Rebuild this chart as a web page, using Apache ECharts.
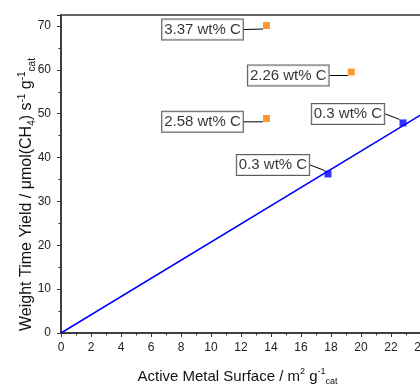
<!DOCTYPE html>
<html>
<head>
<meta charset="utf-8">
<script src="https://cdn.jsdelivr.net/npm/echarts@6/dist/echarts.min.js"></script>
<style>
  html, body { margin: 0; padding: 0; background: #fff; }
  #chart { width: 420px; height: 385px; }
</style>
</head>
<body>
<div id="chart"></div>
<script>
// data
var carbonX = [13.7, 19.35, 13.7];
var carbonY = [70.1, 59.5, 48.9];
var carbonLabels = ['3.37 wt% C', '2.26 wt% C', '2.58 wt% C'];

var lowCX = [17.8, 22.8];
var lowCY = [36.25, 47.9];
var lowCLabels = ['0.3 wt% C', '0.3 wt% C'];

var fitX = [0, 25];
var fitY = [0, 51.8];

// label box offsets (px) from the marker, per point
var carbonOffsets = [[-64, 4], [-63, 3.5], [-64, 3.3]];
var lowCOffsets = [[-55, -9], [-55, -9]];

function pairs(xs, ys) {
    return xs.map(function (x, i) { return [x, ys[i]]; });
}

var font = '"Liberation Sans", Arial, sans-serif';

var boxLabel = {
    show: true,
    position: 'inside',
    formatter: function (p) { return p.data.name; },
    color: '#000',
    fontFamily: font,
    fontSize: 15,
    backgroundColor: '#fff',
    borderColor: '#333',
    borderWidth: 1,
    padding: [3, 2, 2, 2]
};

function named(xs, ys, names) {
    return xs.map(function (x, i) { return { value: [x, ys[i]], name: names[i] }; });
}

function layoutBy(offsets) {
    return function (p) {
        var o = offsets[p.dataIndex];
        return { dx: o[0], dy: o[1] };
    };
}

function titleStyle(size, pad) {
    var small = Math.round(size * 0.62);
    return {
        color: '#111', fontFamily: font, fontSize: size, lineHeight: size + 4,
        padding: pad,
        rich: {
            sup: { fontFamily: font, fontSize: small, lineHeight: small + 1, verticalAlign: 'top', color: '#111' },
            sub: { fontFamily: font, fontSize: small, lineHeight: small + 1, verticalAlign: 'bottom', color: '#111' }
        }
    };
}

var axisCommon = {
    axisLine: { show: true, lineStyle: { color: '#333', width: 1.5 } },
    axisTick: { show: true, inside: false, length: 4, lineStyle: { color: '#333', width: 1 } },
    minorTick: { show: true, splitNumber: 2, length: 2.5, lineStyle: { color: '#333', width: 1 } },
    splitLine: { show: false },
    axisLabel: { color: '#222', fontFamily: font, fontSize: 12, showMaxLabel: false }
};

var chart = echarts.init(document.getElementById('chart'));
chart.setOption({
    animation: false,
    grid: {
        left: 61, top: 15, width: 375, height: 318,
        outerBoundsMode: 'none', containLabel: false,
        show: true, borderColor: '#333', borderWidth: 1.5, backgroundColor: 'transparent'
    },
    xAxis: Object.assign({}, axisCommon, {
        type: 'value', min: 0, max: 25, interval: 2,
        name: 'Active Metal Surface / m{sup|2} g{sup|-1}{sub|cat}',
        nameLocation: 'middle', nameGap: 34, nameMoveOverlap: false,
        nameTextStyle: titleStyle(15, [0, 22, 0, 0]),
        axisLabel: Object.assign({}, axisCommon.axisLabel, { margin: 9 })
    }),
    yAxis: Object.assign({}, axisCommon, {
        type: 'value', min: 0, max: 72.5, interval: 10,
        name: 'Weight Time Yield / \u03bcmol(CH{sub|4}) s{sup|-1} g{sup|-1}{sub|cat}',
        nameLocation: 'middle', nameGap: 24, nameMoveOverlap: false,
        nameTextStyle: titleStyle(16, [0, 41, 0, 0]),
        axisLabel: Object.assign({}, axisCommon.axisLabel, { margin: 10 })
    }),
    series: [
        {
            type: 'line',
            data: pairs(fitX, fitY),
            showSymbol: false,
            lineStyle: { color: '#0000ff', width: 1.5 },
            z: 2
        },
        {
            type: 'scatter',
            data: named(lowCX, lowCY, lowCLabels),
            symbol: 'rect', symbolSize: 7,
            itemStyle: { color: '#0000ff' },
            label: boxLabel,
            labelLine: { show: true, lineStyle: { color: '#000', width: 1 } },
            labelLayout: layoutBy(lowCOffsets),
            z: 3
        },
        {
            type: 'scatter',
            data: named(carbonX, carbonY, carbonLabels),
            symbol: 'rect', symbolSize: 7,
            itemStyle: { color: '#ff8000' },
            label: boxLabel,
            labelLine: { show: true, lineStyle: { color: '#000', width: 1 } },
            labelLayout: layoutBy(carbonOffsets),
            z: 3
        }
    ]
});
</script>
</body>
</html>
